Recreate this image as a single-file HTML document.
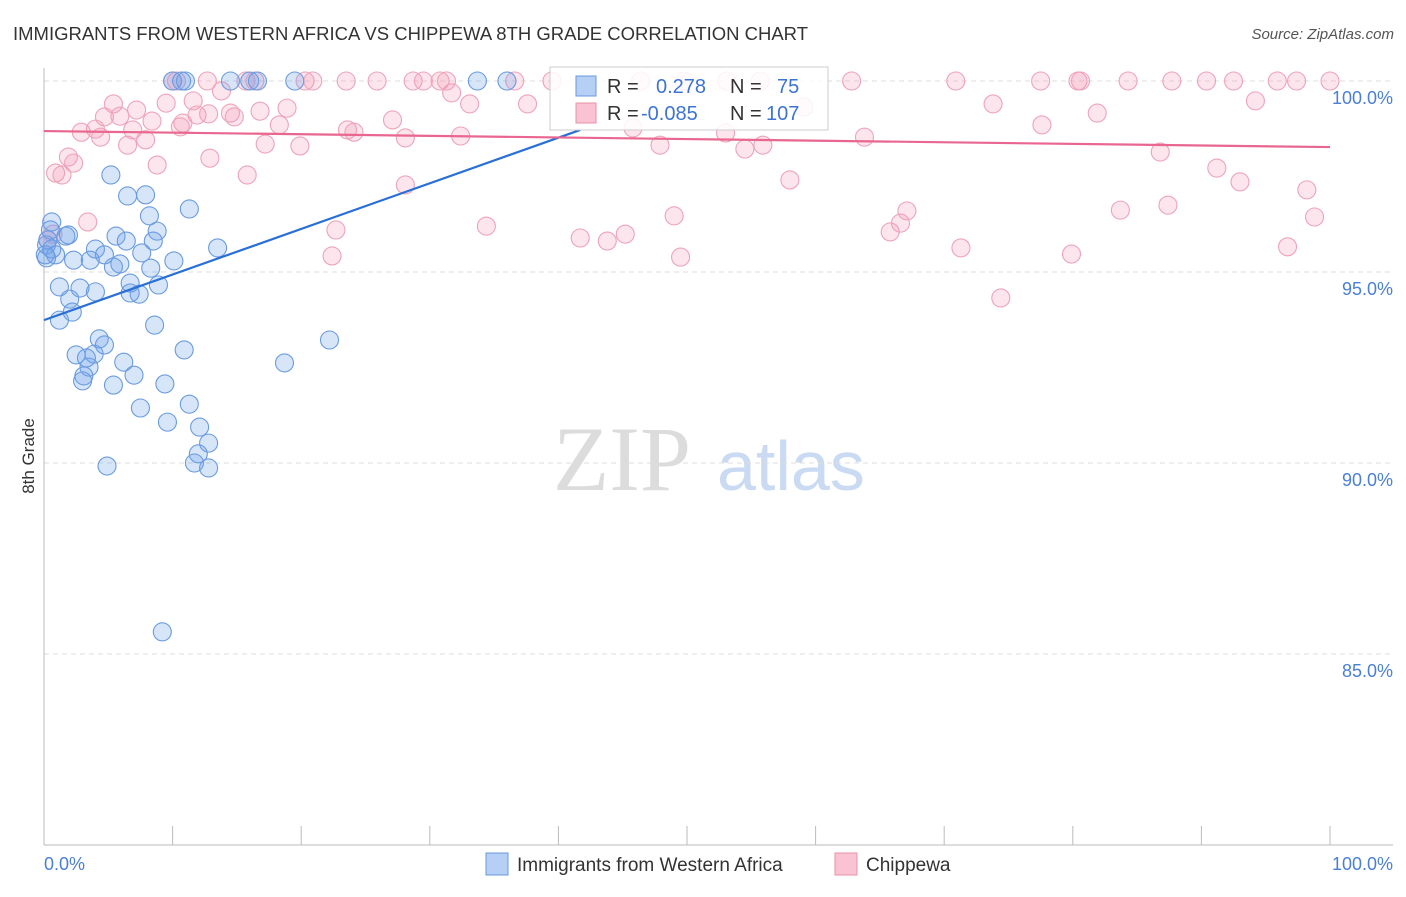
<!DOCTYPE html>
<html><head><meta charset="utf-8"><style>
body{margin:0;background:#fff;font-family:"Liberation Sans",sans-serif}
svg text{font-family:"Liberation Sans",sans-serif}
</style></head><body>
<svg id="c" width="1406" height="892" xmlns="http://www.w3.org/2000/svg">
<text x="13" y="40" font-size="18" fill="#333" textLength="795" lengthAdjust="spacingAndGlyphs">IMMIGRANTS FROM WESTERN AFRICA VS CHIPPEWA 8TH GRADE CORRELATION CHART</text>
<text x="1394" y="39" font-size="15" fill="#555" font-style="italic" text-anchor="end">Source: ZipAtlas.com</text>
<text x="553" y="490" font-size="92" fill="#dcdcdc" style="font-family:'Liberation Serif',serif">ZIP</text>
<text x="717" y="490" font-size="70" fill="#c9daf2">atlas</text>
<text transform="translate(34,456) rotate(-90)" font-size="17" fill="#333" text-anchor="middle">8th Grade</text>
<g id="grid"></g><g id="pts"></g><g id="lines"></g>
<g>
<rect x="550" y="67" width="278" height="63" fill="#fff" fill-opacity="0.85" stroke="#ccc"/>
<rect x="576" y="76" width="20" height="20" fill="#b5cff5" stroke="#6a9ae0"/>
<rect x="576" y="103" width="20" height="20" fill="#f9c3d3" stroke="#e890aa"/>
<text x="607" y="93" font-size="20" fill="#333">R = <tspan x="656" fill="#3d74d4">0.278</tspan><tspan x="730" fill="#333">N =</tspan><tspan x="777" fill="#3d74d4">75</tspan></text>
<text x="607" y="120" font-size="20" fill="#333">R = <tspan x="641" fill="#3d74d4">-0.085</tspan><tspan x="730" fill="#333">N =</tspan><tspan x="766" fill="#3d74d4">107</tspan></text>
</g>
<g>
<rect x="486" y="853" width="22" height="22" fill="#b5cff5" stroke="#6a9ae0"/>
<text x="517" y="871" font-size="19" fill="#333">Immigrants from Western Africa</text>
<rect x="835" y="853" width="22" height="22" fill="#f9c3d3" stroke="#e890aa"/>
<text x="866" y="871" font-size="19" fill="#333">Chippewa</text>
</g>
</svg>
<script>
const yTicks=[100,95,90,85];
const xTicks=[0,10,20,30,40,50,60,70,80,90,100];
const blueX=[10.0,11.0,10.7,14.5,16.0,16.6,19.5,33.7,36.0,5.2,6.5,7.9,8.2,11.3,0.6,0.5,1.7,1.9,8.8,5.6,4.0,6.4,8.5,13.5,4.7,7.6,0.9,2.3,3.6,5.9,5.4,8.3,10.1,0.2,6.7,8.9,7.4,6.7,1.2,2.8,4.0,2.0,2.2,1.2,8.6,22.2,4.3,4.7,10.9,2.5,3.9,3.3,6.2,3.5,3.1,3.0,7.0,18.7,5.4,9.4,7.5,11.3,9.6,12.1,12.8,12.0,11.7,12.8,4.9,9.2,0.2,0.3,0.1,0.6];
const blueY=[100,100,100,100,100,100,100,100,100,97.54,96.99,97.02,96.47,96.65,96.31,96.10,95.94,95.97,96.07,95.94,95.60,95.81,95.81,95.63,95.45,95.50,95.45,95.31,95.31,95.21,95.13,95.10,95.29,95.37,94.71,94.66,94.42,94.45,94.61,94.58,94.48,94.29,93.95,93.74,93.61,93.22,93.25,93.09,92.96,92.83,92.85,92.75,92.64,92.51,92.28,92.15,92.30,92.62,92.04,92.07,91.44,91.54,91.07,90.94,90.52,90.24,90.0,89.87,89.92,85.58,95.71,95.84,95.45,95.60];
const pinkX=[10.0,10.3,12.7,15.7,16.4,20.3,20.9,23.5,25.9,28.7,29.5,30.8,31.3,36.6,39.5,46.4,49.8,53.1,55.7,62.8,70.9,77.5,80.4,80.6,84.3,87.7,90.4,92.5,95.9,97.4,100,
5.4,7.2,11.6,13.8,9.5,18.9,16.8,14.5,14.8,11.9,4.7,5.9,8.4,10.8,18.3,27.1,2.9,4.0,4.4,6.9,10.6,12.8,19.9,17.2,6.5,7.9,8.8,12.9,1.9,2.3,0.9,1.4,15.8,3.4,0.7,28.1,23.6,24.1,28.1,31.7,33.1,32.4,37.6,34.4,22.7,22.4,41.7,43.8,45.2,45.8,47.9,49.0,49.5,53.0,54.5,55.9,58.0,59.1,63.8,65.8,66.6,67.1,71.3,73.8,74.4,77.6,79.9,81.9,83.7,86.8,87.4,91.2,93.0,94.2,96.7,98.2,98.8,0.3];
const pinkY=[100,100,100,100,100,100,100,100,100,100,100,100,100,100,100,100,100,100,100,100,100,100,100,100,100,100,100,100,100,100,100,
99.40,99.24,99.48,99.74,99.42,99.29,99.21,99.16,99.06,99.11,99.06,99.08,98.95,98.90,98.85,98.98,98.66,98.74,98.53,98.72,98.80,99.14,98.30,98.35,98.32,98.46,97.80,97.98,98.01,97.85,97.59,97.54,97.54,96.31,95.99,97.28,98.72,98.66,98.51,99.69,99.40,98.56,99.40,96.20,96.10,95.42,95.89,95.81,95.99,98.77,98.32,96.47,95.39,98.64,98.22,98.32,97.41,99.32,98.53,96.05,96.28,96.60,95.63,99.40,94.32,98.85,95.47,99.16,96.62,98.14,96.75,97.72,97.36,99.48,95.66,97.15,96.44,95.84];
const blueTrend=[93.74,0.1194];
const blueTrendEnd=[0,41.7];
const pinkTrend=[98.69,-0.0042];
const pinkTrendEnd=[0,100];
const X0=44,X1=1330,Y100=81,PX1=38.2;
const sx=v=>X0+(X1-X0)*v/100;
const sy=v=>Y100+(100-v)*PX1;
const NS="http://www.w3.org/2000/svg";
function mk(t,a,p){const e=document.createElementNS(NS,t);for(const k in a)e.setAttribute(k,a[k]);p.appendChild(e);return e;}
const grid=document.getElementById('grid');
yTicks.forEach(t=>{
 const l=mk('line',{x1:44,x2:1393,y1:sy(t),y2:sy(t),stroke:'#ddd','stroke-dasharray':'5,4'},grid);
 
 
 const tx=mk('text',{x:1393,y:sy(t)+23,'font-size':18,fill:'#4a7fd6','text-anchor':'end'},grid);
 tx.textContent=t.toFixed(1)+'%';
 
 
});
const ax=mk('line',{x1:44,x2:1393,y1:845,y2:845,stroke:'#bbb'},grid);


const ay=mk('line',{x1:44,x2:44,y1:68,y2:845,stroke:'#bbb'},grid);


xTicks.forEach(t=>{
 const l=mk('line',{x1:sx(t),x2:sx(t),y1:826,y2:845,stroke:'#bbb'},grid);
 
 
});
const xl0=mk('text',{x:44,y:870,'font-size':18,fill:'#4a7fd6'},grid);xl0.textContent='0.0%';


const xl1=mk('text',{x:1393,y:870,'font-size':18,fill:'#4a7fd6','text-anchor':'end'},grid);xl1.textContent='100.0%';


const pts=document.getElementById('pts');
pinkX.forEach((v,i)=>{
 const c=mk('circle',{cx:sx(v),cy:sy(pinkY[i]),r:9,fill:'rgba(244,150,180,0.25)',stroke:'#eea3ba','stroke-width':1.1},pts);
 
 
});
blueX.forEach((v,i)=>{
 const c=mk('circle',{cx:sx(v),cy:sy(blueY[i]),r:9,fill:'rgba(110,160,235,0.28)',stroke:'#6a9be0','stroke-width':1.1},pts);
 
 
});
const lines=document.getElementById('lines');
const bl=mk('line',{x1:sx(blueTrendEnd[0]),y1:sy(blueTrend[0]+blueTrend[1]*blueTrendEnd[0]),x2:sx(blueTrendEnd[1]),y2:sy(blueTrend[0]+blueTrend[1]*blueTrendEnd[1]),stroke:'#2a6fd6','stroke-width':2.2},lines);


const pl=mk('line',{x1:sx(pinkTrendEnd[0]),y1:sy(pinkTrend[0]+pinkTrend[1]*pinkTrendEnd[0]),x2:sx(pinkTrendEnd[1]),y2:sy(pinkTrend[0]+pinkTrend[1]*pinkTrendEnd[1]),stroke:'#e8668f','stroke-width':2.2},lines);


</script>
</body></html>
